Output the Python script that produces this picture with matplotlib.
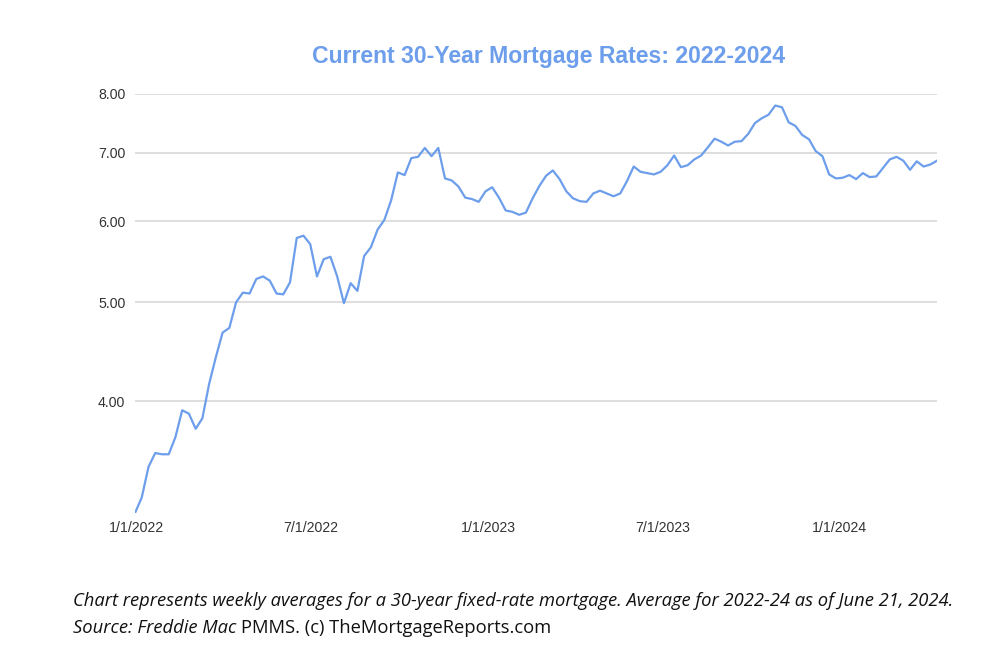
import matplotlib
matplotlib.use("Agg")
from matplotlib import pyplot as plt
import pandas as pd

# Freddie Mac PMMS weekly 30-year fixed averages, 12/30/2021 .. 4/11/2024
rates_2021 = [3.11]
rates_2022 = [3.22, 3.45, 3.56, 3.55, 3.55, 3.69, 3.92, 3.89, 3.76, 3.85, 4.16, 4.42, 4.67,
              4.72, 5.00, 5.11, 5.10, 5.27, 5.30, 5.25, 5.10, 5.09, 5.23, 5.78, 5.81, 5.70,
              5.30, 5.51, 5.54, 5.30, 4.99, 5.22, 5.13, 5.55, 5.66, 5.89, 6.02, 6.29, 6.70,
              6.66, 6.92, 6.94, 7.08, 6.95, 7.08, 6.61, 6.58, 6.49, 6.33, 6.31, 6.27, 6.42]
rates_2023 = [6.48, 6.33, 6.15, 6.13, 6.09, 6.12, 6.32, 6.50, 6.65, 6.73, 6.60, 6.42, 6.32,
              6.28, 6.27, 6.39, 6.43, 6.39, 6.35, 6.39, 6.57, 6.79, 6.71, 6.69, 6.67, 6.71,
              6.81, 6.96, 6.78, 6.81, 6.90, 6.96, 7.09, 7.23, 7.18, 7.12, 7.18, 7.19, 7.31,
              7.49, 7.57, 7.63, 7.79, 7.76, 7.50, 7.44, 7.29, 7.22, 7.03, 6.95, 6.67, 6.61]
rates_2024 = [6.62, 6.66, 6.60, 6.69, 6.63, 6.64, 6.77, 6.90, 6.94, 6.88, 6.74, 6.87, 6.79,
              6.82, 6.88]
rates = rates_2021 + rates_2022 + rates_2023 + rates_2024
weeks = pd.date_range("2021-12-30", periods=len(rates), freq="7D")

y_ticks = [4, 5, 6, 7, 8]
y_labels = ["4.00", "5.00", "6.00", "7.00", "8.00"]
x_ticks = pd.to_datetime(["2022-01-01", "2022-07-01", "2023-01-01", "2023-07-01", "2024-01-01"])
x_labels = ["1/1/2022", "7/1/2022", "1/1/2023", "7/1/2023", "1/1/2024"]

title = "Current 30-Year Mortgage Rates: 2022-2024"
note_1 = "Chart represents weekly averages for a 30-year fixed-rate mortgage. Average for 2022-24 as of June 21, 2024."
note_2a = "Source: Freddie Mac "
note_2b = "PMMS. (c) TheMortgageReports.com"

fig = plt.figure(figsize=(10, 6.51), dpi=100)
ax = fig.add_axes([0.135, 0.212, 0.802, 0.644])

ax.plot(weeks, rates, color="#6d9eeb", linewidth=1.6, solid_joinstyle="round")
ax.set_yscale("log")
ax.set_ylim(3.11, 8.0)
ax.set_xlim(weeks[0], weeks[-1])

ax.yaxis.set_major_locator(plt.FixedLocator(y_ticks))
ax.yaxis.set_major_formatter(plt.FixedFormatter(y_labels))
ax.yaxis.set_minor_locator(plt.NullLocator())
ax.set_xticks(x_ticks)
ax.set_xticklabels(x_labels)
ax.xaxis.set_minor_locator(plt.NullLocator())

ax.tick_params(axis="both", length=0, labelsize=10.2, labelcolor="#333333")
ax.tick_params(axis="y", pad=7)
ax.tick_params(axis="x", pad=6)
for lab in ax.get_xticklabels() + ax.get_yticklabels():
    lab.set_fontfamily("Liberation Sans")

ax.grid(axis="y", color="#d4d4d4", linewidth=1.1)
ax.set_axisbelow(True)
for s in ax.spines.values():
    s.set_visible(False)

fig.text(0.549, 0.913, title, ha="center", va="center", fontsize=16.6, fontweight="bold",
         color="#6d9eeb", family="Liberation Sans")

cap_size = 13.2
fig.text(0.073, 0.0691, note_1, ha="left", va="baseline", fontsize=cap_size,
         style="italic", color="#111111", family="Open Sans")
t2 = fig.text(0.073, 0.0276, note_2a, ha="left", va="baseline", fontsize=cap_size,
              style="italic", color="#111111", family="Open Sans")
fig.canvas.draw()
bb = t2.get_window_extent(renderer=fig.canvas.get_renderer())
x2 = bb.x1 / fig.bbox.width
fig.text(x2, 0.0276, note_2b, ha="left", va="baseline", fontsize=cap_size,
         color="#111111", family="Open Sans")

plt.savefig("out.png", dpi=100)
plt.close()
